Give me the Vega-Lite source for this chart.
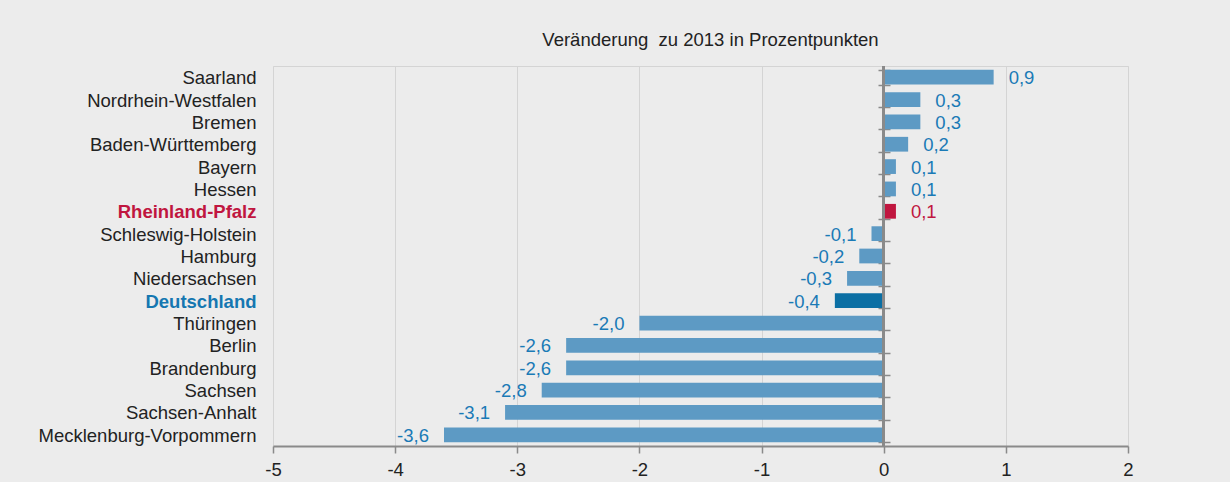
{
  "$schema": "https://vega.github.io/schema/vega-lite/v6.json",
  "autosize": {"type": "none"},
  "padding": {"left": 273, "top": 66, "right": 102, "bottom": 36},
  "width": 855,
  "height": 380,
  "background": "#ececec",
  "config": {
    "font": "Liberation Sans",
    "locale": {"number": {"decimal": ",", "thousands": ".", "grouping": [3], "currency": ["", " €"], "minus": "-"}},
    "view": {"stroke": "#d4d4d4", "strokeWidth": 1, "fill": "#ececec"}
  },
  "title": {
    "text": "Veränderung\u00a0 zu 2013 in Prozentpunkten",
    "anchor": "middle",
    "fontSize": 18.5,
    "fontWeight": "normal",
    "color": "#222222",
    "font": "Liberation Sans",
    "offset": 16,
    "dx": 10
  },
  "data": {
    "values": [
      {"land": "Saarland", "wert": 0.9},
      {"land": "Nordrhein-Westfalen", "wert": 0.3},
      {"land": "Bremen", "wert": 0.3},
      {"land": "Baden-Württemberg", "wert": 0.2},
      {"land": "Bayern", "wert": 0.1},
      {"land": "Hessen", "wert": 0.1},
      {"land": "Rheinland-Pfalz", "wert": 0.1},
      {"land": "Schleswig-Holstein", "wert": -0.1},
      {"land": "Hamburg", "wert": -0.2},
      {"land": "Niedersachsen", "wert": -0.3},
      {"land": "Deutschland", "wert": -0.4},
      {"land": "Thüringen", "wert": -2.0},
      {"land": "Berlin", "wert": -2.6},
      {"land": "Brandenburg", "wert": -2.6},
      {"land": "Sachsen", "wert": -2.8},
      {"land": "Sachsen-Anhalt", "wert": -3.1},
      {"land": "Mecklenburg-Vorpommern", "wert": -3.6}
    ]
  },
  "resolve": {"axis": {"y": "independent"}},
  "layer": [
    {
      "mark": {"type": "bar"},
      "encoding": {
        "y": {
          "field": "land", "type": "nominal", "sort": null,
          "scale": {"paddingInner": 0.34, "paddingOuter": 0.17},
          "axis": {
            "title": null, "domain": false, "ticks": false, "labelPadding": 17, "labelLimit": 400,
            "labelFontSize": 18.5, "labelFont": "Liberation Sans", "labelOffset": 1,
            "labelColor": {"condition": [
              {"test": "datum.value === 'Rheinland-Pfalz'", "value": "#c0163f"},
              {"test": "datum.value === 'Deutschland'", "value": "#1577b1"}
            ], "value": "#222222"},
            "labelFontWeight": {"condition": {"test": "datum.value === 'Rheinland-Pfalz' || datum.value === 'Deutschland'", "value": "bold"}, "value": "normal"}
          }
        },
        "x": {
          "field": "wert", "type": "quantitative",
          "scale": {"domain": [-5, 2], "nice": false, "zero": false},
          "axis": {
            "title": null, "values": [-5, -4, -3, -2, -1, 0, 1, 2], "format": "d",
            "grid": true, "gridColor": "#d4d4d4", "gridWidth": 1,
            "domainColor": "#8a8a8a", "domainWidth": 2,
            "tickColor": "#8a8a8a", "tickWidth": 1.5, "tickSize": 7,
            "labelFlush": false, "labelOverlap": false,
            "labelFontSize": 18.5, "labelColor": "#222222", "labelPadding": 7, "labelFont": "Liberation Sans"
          }
        },
        "x2": {"datum": 0},
        "color": {
          "condition": [
            {"test": "datum.land === 'Rheinland-Pfalz'", "value": "#c0163f"},
            {"test": "datum.land === 'Deutschland'", "value": "#0b6fa4"}
          ],
          "value": "#5d9ac4"
        }
      }
    },
    {
      "mark": {"type": "rule", "color": "#8a8a8a", "strokeWidth": 2},
      "encoding": {"x": {"datum": 0}}
    },
    {
      "mark": {"type": "tick", "opacity": 0},
      "encoding": {
        "y": {
          "field": "land", "type": "nominal", "sort": null,
          "axis": {
            "title": null, "labels": false, "domain": false, "orient": "left", "offset": -617,
            "tickBand": "extent", "tickSize": 12, "tickColor": "#8a8a8a", "tickWidth": 1.5
          }
        },
        "x": {"datum": 0}
      }
    },
    {
      "transform": [{"filter": "datum.wert >= 0"}],
      "mark": {"type": "text", "align": "left", "baseline": "middle", "dx": 15, "dy": 1, "fontSize": 18.5, "font": "Liberation Sans"},
      "encoding": {
        "y": {"field": "land", "type": "nominal", "sort": null, "axis": null},
        "x": {"field": "wert", "type": "quantitative"},
        "text": {"field": "wert", "type": "quantitative", "format": ".1f"},
        "color": {"condition": {"test": "datum.land === 'Rheinland-Pfalz'", "value": "#c0163f"}, "value": "#1a7ab6"}
      }
    },
    {
      "transform": [{"filter": "datum.wert < 0"}],
      "mark": {"type": "text", "align": "right", "baseline": "middle", "dx": -15, "dy": 1, "fontSize": 18.5, "font": "Liberation Sans"},
      "encoding": {
        "y": {"field": "land", "type": "nominal", "sort": null, "axis": null},
        "x": {"field": "wert", "type": "quantitative"},
        "text": {"field": "wert", "type": "quantitative", "format": ".1f"},
        "color": {"value": "#1a7ab6"}
      }
    }
  ]
}
